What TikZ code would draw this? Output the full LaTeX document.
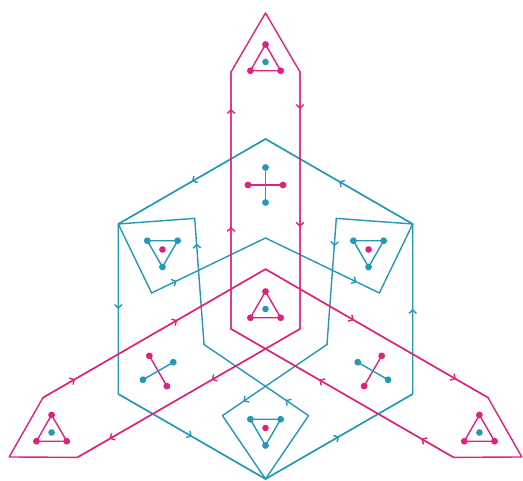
\documentclass[tikz,border=0pt]{standalone}
\usetikzlibrary{arrows.meta,decorations.markings,calc}
\definecolor{mag}{RGB}{224,34,124}
\definecolor{cy}{RGB}{36,152,184}
\tikzset{
  magline/.style={draw=mag, line width=1.4pt, line join=round, line cap=round},
  cyline/.style={draw=cy, line width=1.4pt, line join=round, line cap=round},
  mk/.style={postaction={decorate, decoration={markings, mark=at position #1 with {\arrow{>}}}}},
  magtri/.pic={
    \coordinate (-a) at (90:17.5); \coordinate (-b) at (210:17.5); \coordinate (-c) at (330:17.5);
    \draw[magline] (-a) -- (-b) -- (-c) -- cycle;
    \fill[mag] (-a) circle (3.4) (-b) circle (3.4) (-c) circle (3.4);
    \fill[cy] (0,0) circle (3.3);
  },
  cytri/.pic={
    \coordinate (-a) at (270:17.5); \coordinate (-b) at (30:17.5); \coordinate (-c) at (150:17.5);
    \draw[cyline] (-a) -- (-b) -- (-c) -- cycle;
    \fill[cy] (-a) circle (3.4) (-b) circle (3.4) (-c) circle (3.4);
    \fill[mag] (0,0) circle (3.3);
  },
  crossp/.pic={
    \coordinate (-m1) at (0,17.5); \coordinate (-m2) at (0,-17.5);
    \coordinate (-c1) at (17.5,0); \coordinate (-c2) at (-17.5,0);
    \draw[magline] (-m1) -- (-m2);
    \fill[mag] (-m1) circle (3.4) (-m2) circle (3.4);
    \draw[cyline] (-c1) -- (-c2);
    \fill[cy] (-c1) circle (3.4) (-c2) circle (3.4);
  }
}
\begin{document}
\begin{tikzpicture}[x=1pt,y=1pt,>={Straight Barb[length=3.5pt,width=7.5pt]}]
\useasboundingbox[fill=white] (-265.5,-172) rectangle (257.5,309);
% ---------- cyan structure ----------
\foreach \a in {30,90,150,210,270,330}{\coordinate (H\a) at (\a:170);}
\foreach \a in {128,172,248,292,8,52}{\coordinate (V\a) at (\a:115);}
\foreach \a in {90,210,330}{\coordinate (A\a) at (\a:71);}
\draw[cyline] (H90) -- (H150) -- (H210) -- (H270) -- (H330) -- (H30) -- cycle;
\draw[cyline, mk=0.5] (H90) -- (H150);
\draw[cyline, mk=0.5] (H150) -- (H210);
\draw[cyline, mk=0.5] (H210) -- (H270);
\draw[cyline, mk=0.5] (H270) -- (H330);
\draw[cyline, mk=0.5] (H330) -- (H30);
\draw[cyline, mk=0.5] (H30) -- (H90);
\draw[cyline] (V128) -- (H150) -- (V172);
\draw[cyline] (V248) -- (H270) -- (V292);
\draw[cyline] (V8) -- (H30) -- (V52);
\draw[cyline, mk=0.22] (V172) -- (A90);
\draw[cyline, mk=0.8] (A90) -- (V8);
\draw[cyline, mk=0.22] (V292) -- (A210);
\draw[cyline, mk=0.8] (A210) -- (V128);
\draw[cyline, mk=0.22] (V52) -- (A330);
\draw[cyline, mk=0.8] (A330) -- (V248);
% ---------- magenta structure ----------
\foreach \t in {90,210,330}{
  \coordinate (Bp\t) at (\t+8.28:239.5);
  \coordinate (Bm\t) at (\t-8.28:239.5);
  \coordinate (Tip\t) at (\t:296);
  \coordinate (M\t) at (\t:39.84);
}
\draw[magline] (M210) -- (Bp90) -- (Tip90) -- (Bm90) -- (M330) -- (Bp210) -- (Tip210)
  -- (Bm210) -- (M90) -- (Bp330) -- (Tip330) -- (Bm330) -- cycle;
\foreach \t/\s/\e in {90/210/330, 210/330/90, 330/90/210}{
  \draw[magline, mk=0.397, mk=0.856] (M\s) -- (Bp\t);
  \draw[magline, mk=0.144, mk=0.603] (Bm\t) -- (M\e);
}
% ---------- icons ----------
\pic (mc) at (0,0) {magtri};
\pic (m90) at (90:247) {magtri};
\pic (m210) at (210:247) {magtri};
\pic (m330) at (330:247) {magtri};
\pic (c150) at (150:119) {cytri};
\pic (c30) at (30:119) {cytri};
\pic (c270) at (270:119) {cytri};
\pic[rotate=90] (x90) at (90:124) {crossp};
\pic[rotate=210] (x210) at (210:124) {crossp};
\pic[rotate=330] (x330) at (330:124) {crossp};
\end{tikzpicture}
\end{document}
